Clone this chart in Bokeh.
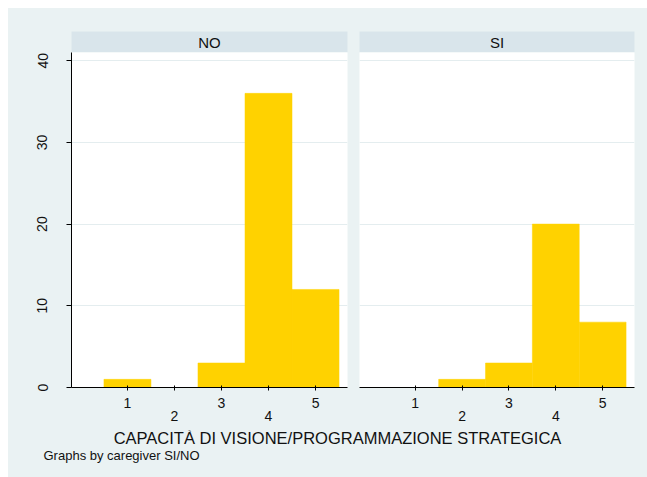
from bokeh.plotting import figure
from bokeh.layouts import column, row
from bokeh.models import Range1d, LinearAxis, FixedTicker, Grid, Label
from bokeh.embed import file_html
from bokeh.resources import INLINE

# ---- data ----
categories = [1, 2, 3, 4, 5]
counts_no = [1, 0, 3, 36, 12]
counts_si = [0, 1, 3, 20, 8]
panel_labels = ["NO", "SI"]
y_ticks = [0, 10, 20, 30, 40]
x_title = "CAPACITÀ DI VISIONE/PROGRAMMAZIONE STRATEGICA"
note = "Graphs by caregiver SI/NO"

# ---- style ----
BG = "#EAF2F3"
STRIP = "#D9E5EB"
GRID = "#E4EDEF"
BAR = "#FFD200"
FONT = "Liberation Sans"
TXT = "#111111"
TICK_FS = "14px"

YMAX = 41
XMIN, XMAX = -0.19, 5.68


def strip_fig(text, width, left, right):
    f = figure(width=width, height=44, x_range=Range1d(0, 1), y_range=Range1d(0, 1),
               x_axis_location=None, y_axis_location=None, toolbar_location=None,
               output_backend="svg", min_border_left=left, min_border_right=right,
               min_border_top=23, min_border_bottom=0)
    f.background_fill_color = STRIP
    f.border_fill_color = BG
    f.outline_line_color = None
    f.xgrid.visible = False
    f.ygrid.visible = False
    f.add_layout(Label(x=0.5, y=0.5, text=text, text_align="center", text_baseline="middle",
                       text_font=FONT, text_font_size="15px", text_color=TXT))
    return f


def panel(counts, width, left, right, show_y):
    f = figure(width=width, height=378, x_range=Range1d(XMIN, XMAX), y_range=Range1d(0, YMAX),
               x_axis_location=None, y_axis_location=None, toolbar_location=None,
               output_backend="svg", min_border_left=left, min_border_right=right,
               min_border_top=0, min_border_bottom=43)
    f.background_fill_color = "white"
    f.border_fill_color = BG
    f.outline_line_color = None
    f.xgrid.visible = False
    f.ygrid.visible = False
    f.add_layout(Grid(dimension=1, ticker=FixedTicker(ticks=y_ticks[1:]),
                      grid_line_color=GRID, grid_line_width=1))
    f.vbar(x=categories, top=counts, width=1.0, fill_color=BAR, line_color=BAR, line_width=0.5)

    ax1 = LinearAxis(ticker=FixedTicker(ticks=categories),
                     major_label_overrides={2: "", 4: ""})
    ax2 = LinearAxis(ticker=FixedTicker(ticks=[2, 4]))
    for ax in (ax1, ax2):
        ax.minor_tick_line_color = None
        ax.major_label_text_font = FONT
        ax.major_label_text_font_size = TICK_FS
        ax.major_label_text_color = TXT
        ax.axis_line_color = "black"
        ax.major_tick_line_color = "black"
    ax1.major_tick_in = 2
    ax1.major_tick_out = 3
    ax1.major_label_standoff = 7
    ax2.axis_line_color = None
    ax2.major_tick_line_color = None
    ax2.major_tick_in = 0
    ax2.major_tick_out = 0
    ax2.major_label_standoff = 0
    f.add_layout(ax1, "below")
    f.add_layout(ax2, "below")

    if show_y:
        ay = LinearAxis(ticker=FixedTicker(ticks=y_ticks), bounds=(0, YMAX))
        ay.minor_tick_line_color = None
        ay.major_tick_in = 0
        ay.major_tick_out = 5
        ay.major_label_orientation = "vertical"
        ay.major_label_standoff = 19
        ay.major_label_text_font = FONT
        ay.major_label_text_font_size = TICK_FS
        ay.major_label_text_color = TXT
        ay.axis_line_color = "black"
        ay.major_tick_line_color = "black"
        f.add_layout(ay, "left")
    return f


s1 = strip_fig(panel_labels[0], 345, 63, 6)
s2 = strip_fig(panel_labels[1], 294, 6, 13)
p1 = panel(counts_no, 345, 63, 6, True)
p2 = panel(counts_si, 294, 6, 13, False)

bottom = figure(width=639, height=47, x_range=Range1d(0, 1), y_range=Range1d(0, 1),
                x_axis_location=None, y_axis_location=None, toolbar_location=None,
                output_backend="svg", min_border=0)
bottom.background_fill_color = BG
bottom.border_fill_color = BG
bottom.outline_line_color = None
bottom.xgrid.visible = False
bottom.ygrid.visible = False
bottom.add_layout(Label(x=329 / 639, y=40 / 47, text=x_title, text_align="center",
                        text_baseline="middle", text_font=FONT, text_font_size="16.5px",
                        text_color=TXT))
bottom.add_layout(Label(x=35 / 639, y=22 / 47, text=note, text_align="left",
                        text_baseline="middle", text_font=FONT, text_font_size="13px",
                        text_color=TXT))

layout = column(row(s1, s2, styles={"background-color": BG}),
                row(p1, p2, styles={"background-color": BG}),
                bottom, spacing=0,
                styles={"background-color": BG, "margin-left": "8px", "margin-top": "8px"})

open("out.html", "w").write(file_html(layout, INLINE))
